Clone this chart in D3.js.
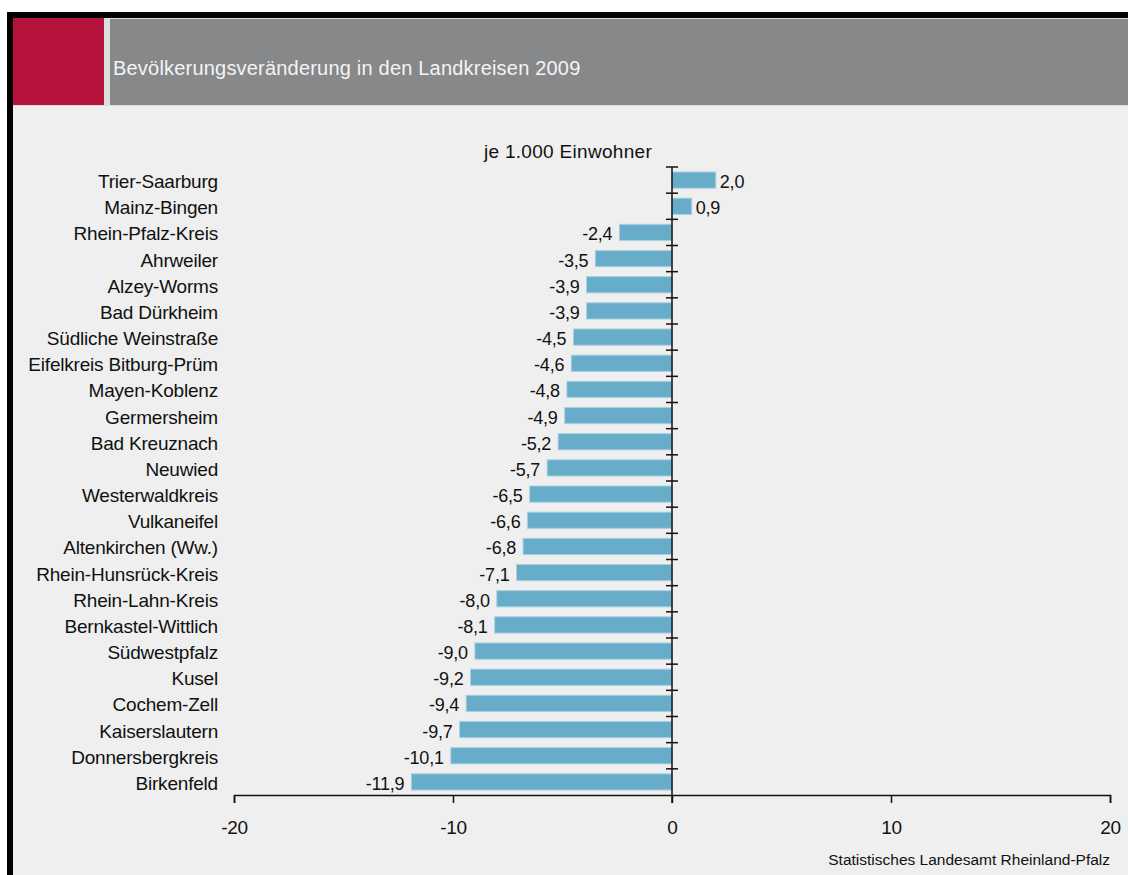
<!DOCTYPE html>
<html>
<head>
<meta charset="utf-8">
<script src="https://cdn.jsdelivr.net/npm/d3@7"></script>
<style>
  body { margin: 0; background: #fff; }
  svg text { font-family: "Liberation Sans", Arial, sans-serif; }
</style>
</head>
<body>
<svg width="1128" height="875"></svg>
<script>
// Landkreise, von oben nach unten
var kreise = ["Trier-Saarburg", "Mainz-Bingen", "Rhein-Pfalz-Kreis", "Ahrweiler", "Alzey-Worms",
  "Bad Dürkheim", "Südliche Weinstraße", "Eifelkreis Bitburg-Prüm", "Mayen-Koblenz", "Germersheim",
  "Bad Kreuznach", "Neuwied", "Westerwaldkreis", "Vulkaneifel", "Altenkirchen (Ww.)",
  "Rhein-Hunsrück-Kreis", "Rhein-Lahn-Kreis", "Bernkastel-Wittlich", "Südwestpfalz", "Kusel",
  "Cochem-Zell", "Kaiserslautern", "Donnersbergkreis", "Birkenfeld"];
// je 1.000 Einwohner
var werte = [2.0, 0.9, -2.4, -3.5, -3.9, -3.9, -4.5, -4.6, -4.8, -4.9, -5.2, -5.7, -6.5, -6.6, -6.8,
  -7.1, -8.0, -8.1, -9.0, -9.2, -9.4, -9.7, -10.1, -11.9];
var xTicks = [-20, -10, 0, 10, 20];

var title = "Bevölkerungsveränderung in den Landkreisen 2009";
var unit = "je 1.000 Einwohner";
var quelle = "Statistisches Landesamt Rheinland-Pfalz";

var data = kreise.map((k, i) => ({ name: k, value: werte[i] }));
// Komma statt Punkt, normaler Bindestrich als Minus
var fmt = v => (v < 0 ? "-" : "") + Math.abs(v).toFixed(1).replace(".", ",");

const svg = d3.select("svg");

// Rahmen und Kopf
svg.append("rect").attr("x", 7).attr("y", 12).attr("width", 1121).attr("height", 863).attr("fill", "#000");
svg.append("rect").attr("x", 13).attr("y", 18).attr("width", 1115).attr("height", 857).attr("fill", "#eeefee");
svg.append("rect").attr("x", 13).attr("y", 18).attr("width", 1115).attr("height", 88).attr("fill", "#dcdcdc");
svg.append("rect").attr("x", 13).attr("y", 18).attr("width", 91).attr("height", 87).attr("fill", "#b5133b");
svg.append("rect").attr("x", 110).attr("y", 19).attr("width", 1018).attr("height", 86).attr("fill", "#878889");
svg.append("text").attr("x", 113).attr("y", 75).attr("fill", "#f4f4f4")
  .attr("font-size", 20).attr("letter-spacing", 0.2).text(title);

const x = d3.scaleLinear().domain([-20, 20]).range([234, 1110]);
const y = d3.scaleBand().domain(kreise).range([167, 795]).paddingInner(0.38).paddingOuter(0.19);
const yBand = d3.scaleBand().domain(kreise).range([167, 795]);

// Balken
svg.selectAll(".bar").data(data).enter().append("rect")
  .attr("class", "bar")
  .attr("x", d => x(Math.min(0, d.value)))
  .attr("y", d => y(d.name))
  .attr("width", d => Math.abs(x(d.value) - x(0)))
  .attr("height", y.bandwidth())
  .attr("fill", "#67adca")
  .attr("stroke", "#a8d0e0")
  .attr("stroke-width", 1);

// Werte
svg.selectAll(".val").data(data).enter().append("text")
  .attr("class", "val")
  .attr("x", d => d.value < 0 ? x(d.value) - 7 : x(d.value) + 4)
  .attr("y", d => yBand(d.name) + yBand.bandwidth() / 2 + 8)
  .attr("text-anchor", d => d.value < 0 ? "end" : "start")
  .attr("font-size", 18).attr("letter-spacing", -0.2).attr("fill", "#111")
  .text(d => fmt(d.value));

// Kategorien
svg.selectAll(".lab").data(data).enter().append("text")
  .attr("class", "lab")
  .attr("x", 218)
  .attr("y", d => yBand(d.name) + yBand.bandwidth() / 2 + 8)
  .attr("text-anchor", "end")
  .attr("font-size", 19).attr("letter-spacing", -0.2).attr("fill", "#111")
  .text(d => d.name);

// Nulllinie mit Teilstrichen
const zero = svg.append("g").attr("stroke", "#111").attr("stroke-width", 1.5);
zero.append("line").attr("x1", x(0)).attr("x2", x(0)).attr("y1", 167).attr("y2", 803);
zero.selectAll(".yt").data(kreise).enter().append("line")
  .attr("x1", x(0) - 6).attr("x2", x(0) + 6)
  .attr("y1", d => yBand(d)).attr("y2", d => yBand(d));

// x-Achse
const xAxis = d3.axisBottom(x).tickValues(xTicks).tickSize(8).tickPadding(18).tickSizeOuter(8);
const xg = svg.append("g").attr("transform", "translate(0,795)").call(xAxis);
xg.select(".domain").attr("stroke", "#111").attr("stroke-width", 1.5);
xg.selectAll(".tick line").attr("stroke", "#111").attr("stroke-width", 1.5);
xg.selectAll(".tick text").attr("font-size", 19).attr("letter-spacing", -0.3).attr("fill", "#111")
  .attr("font-family", "Liberation Sans, Arial, sans-serif").text(d => d < 0 ? "-" + Math.abs(d) : d);

svg.append("text").attr("x", 568).attr("y", 158).attr("text-anchor", "middle")
  .attr("font-size", 19).attr("letter-spacing", 0.3).attr("fill", "#111").text(unit);
svg.append("text").attr("x", 1110).attr("y", 865).attr("text-anchor", "end")
  .attr("font-size", 15.5).attr("letter-spacing", 0).attr("fill", "#111").text(quelle);
</script>
</body>
</html>
